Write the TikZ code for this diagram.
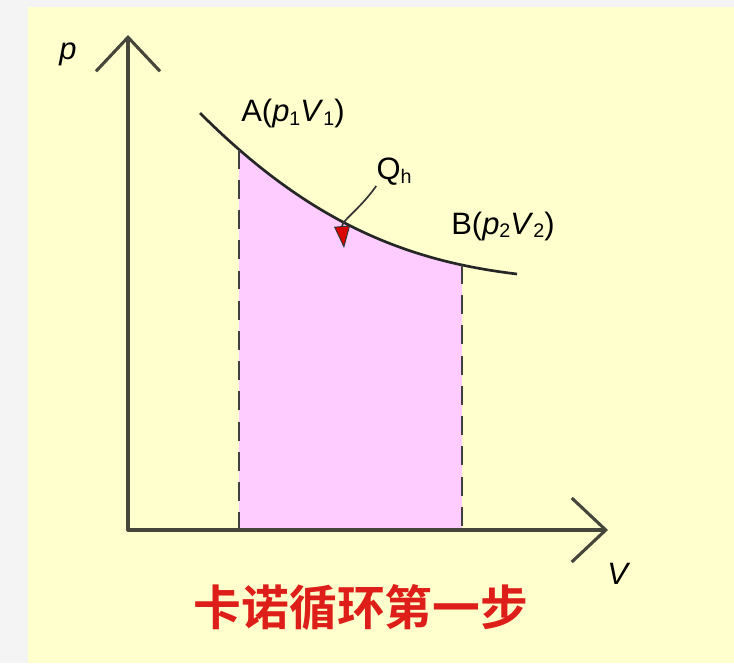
\documentclass[tikz,border=0pt]{standalone}
\usepackage{fontspec}
\setmainfont{Liberation Sans}
\newfontfamily\cjk{Noto Sans CJK SC}[BoldFont={Noto Sans CJK SC Bold}]
\usetikzlibrary{arrows.meta}
\definecolor{bgyellow}{RGB}{255,255,206}
\definecolor{bggrey}{RGB}{244,244,244}
\definecolor{areapink}{RGB}{255,204,255}
\definecolor{axisgrey}{RGB}{70,70,58}
\definecolor{titlered}{RGB}{222,30,24}
\newcommand{\lowidx}[1]{\raisebox{-0.2ex}{\fontsize{14}{16}\selectfont #1}}
\tikzset{
  axisline/.style={line width=2.2pt, draw=axisgrey, -{Straight Barb[length=0.85cm, width=1.6cm, line width=2.2pt]}},
  isotherm/.style={line width=1.9pt, draw=black!85},
  dropline/.style={line width=1.4pt, draw=black!75, dash pattern=on 13.5pt off 8pt},
  lbl/.style={inner sep=0pt, font=\fontsize{22}{26}\selectfont}
}
\begin{document}
\begin{tikzpicture}[x=0.025cm, y=-0.025cm, >=stealth]
        % Hintergrund
        \fill[bggrey] (0,0) rectangle (734,663);
        \fill[bgyellow] (28,7) rectangle (734,663);
        \useasboundingbox (0,0) rectangle (734,663);

        % Punkte
        \coordinate (O) at (128,530);
        \coordinate (Ptip) at (128,35);
        \coordinate (Vtip) at (608,530);
        \coordinate (C0) at (200,113);
        \coordinate (C1) at (517,274);
        \path (C0) .. controls (310,223) and (407,261) .. (C1)
          coordinate[pos=0.12] (A) coordinate[pos=0.83] (B);

        % Flaeche unter der Isotherme
        \begin{scope}
          \clip (C0) .. controls (310,223) and (407,261) .. (C1) -- (C1 |- O) -- (C0 |- O) -- cycle;
          \fill[areapink] (A |- O) rectangle (B |- Ptip);
        \end{scope}

        % Isotherme
        \draw[isotherm] (C0) .. controls (310,223) and (407,261) .. (C1);

        % Senkrechte
        \draw[dropline] (A) -- (A |- O);
        \draw[dropline] (B) -- (B |- O);

        % Achsen
        \draw[axisline, line cap=round] (O) -- (Ptip);
        \draw[axisline, line cap=round] (O) -- (Vtip);
        \node[lbl] (plabel) at (68,54) {\textit{p}};
        \node[lbl] (Vlabel) at (619,574) {\textit{V}};

        % Beschriftung der Punkte
        \node[lbl] (Alabel) at (293,114) {A(\textit{p}\lowidx{1}\textit{V}\lowidx{1})};
        \node[lbl] (Blabel) at (503,226) {B(\textit{p}\lowidx{2}\textit{V}\lowidx{2})};

        % Waerme Q_h
        \node[lbl] (Qh) at (394,172) {Q\lowidx{h}};
        \coordinate (Qtip) at (344,248);
        \draw[line width=1.2pt, draw=black!80, -{Triangle[length=0.55cm, width=0.4cm, fill=red!85!black, color=black!80, line width=0.7pt]}]
          (Qh.south west) to[out=235, in=95] (Qtip);

        % Titel
        \node[inner sep=0pt, text=titlered, font=\cjk\bfseries\fontsize{34}{40}\selectfont] (title) at (361,607) {卡诺循环第一步};
\end{tikzpicture}
\end{document}
